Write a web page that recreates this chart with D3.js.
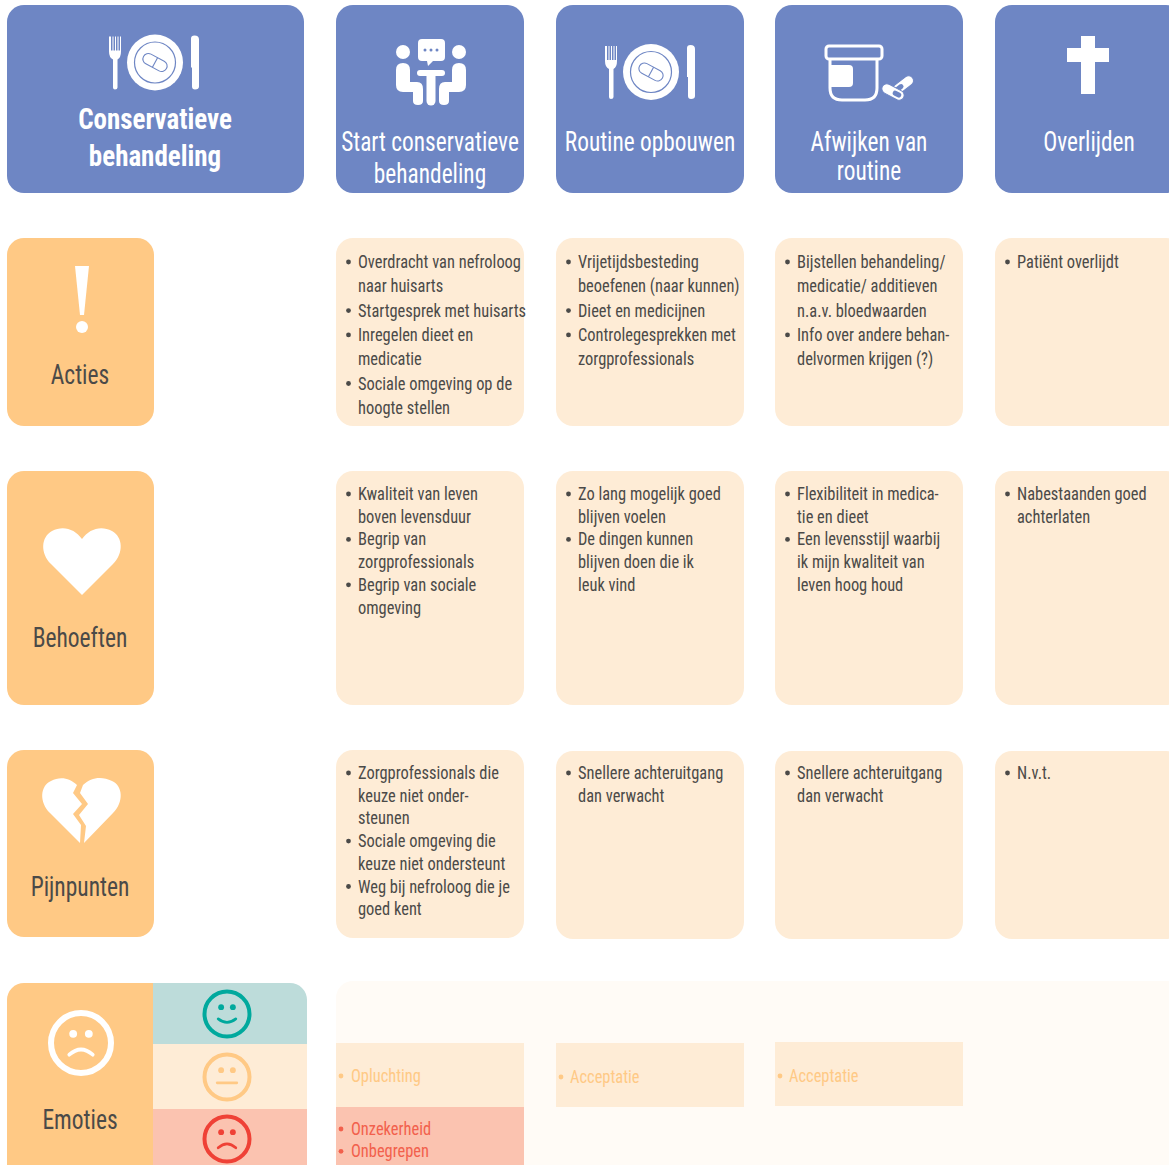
<!DOCTYPE html>
<html lang="nl">
<head>
<meta charset="UTF-8">
<title>Conservatieve behandeling</title>
<script src="https://d3js.org/d3.v7.min.js"></script>
<style>
  html, body { margin: 0; padding: 0; background: #fff; overflow: hidden; }
  text { font-family: "Liberation Sans Narrow", "Roboto Condensed", "Noto Sans", sans-serif; }
</style>
</head>
<body>
<script>
// chart content
const title = ["Conservatieve", "behandeling"];
const phases = [["Start conservatieve", "behandeling"], ["Routine opbouwen"], ["Afwijken van", "routine"], ["Overlijden"]];
const rowLabels = ["Acties", "Behoeften", "Pijnpunten", "Emoties"];

const acties = [
  [["Overdracht van nefroloog", "naar huisarts"], ["Startgesprek met huisarts"], ["Inregelen dieet en", "medicatie"], ["Sociale omgeving op de", "hoogte stellen"]],
  [["Vrijetijdsbesteding", "beoefenen (naar kunnen)"], ["Dieet en medicijnen"], ["Controlegesprekken met", "zorgprofessionals"]],
  [["Bijstellen behandeling/", "medicatie/ additieven", "n.a.v. bloedwaarden"], ["Info over andere behan-", "delvormen krijgen (?)"]],
  [["Patiënt overlijdt"]]
];
const behoeften = [
  [["Kwaliteit van leven", "boven levensduur"], ["Begrip van", "zorgprofessionals"], ["Begrip van sociale", "omgeving"]],
  [["Zo lang mogelijk goed", "blijven voelen"], ["De dingen kunnen", "blijven doen die ik", "leuk vind"]],
  [["Flexibiliteit in medica-", "tie en dieet"], ["Een levensstijl waarbij", "ik mijn kwaliteit van", "leven hoog houd"]],
  [["Nabestaanden goed", "achterlaten"]]
];
const pijnpunten = [
  [["Zorgprofessionals die", "keuze niet onder-", "steunen"], ["Sociale omgeving die", "keuze niet ondersteunt"], ["Weg bij nefroloog die je", "goed kent"]],
  [["Snellere achteruitgang", "dan verwacht"]],
  [["Snellere achteruitgang", "dan verwacht"]],
  [["N.v.t."]]
];
const neutraal = [["Opluchting"], ["Acceptatie"], ["Acceptatie"]];
const negatief = [["Onzekerheid", "Onbegrepen"]];

// layout
const colX = [336, 556, 775, 995];
const colW = 188;
const blue = "#6e86c4", orange = "#ffc985", cream = "#feecd6", teal = "#bddcda", salmon = "#fbc3b0", ink = "#4b4a48";

const svg = d3.select("body").append("svg").attr("width", 1169).attr("height", 1165).style("display", "block");

function card(x, y, w, h, fill, r = 17) {
  return svg.append("rect").attr("x", x).attr("y", y).attr("width", w).attr("height", h).attr("rx", r).attr("fill", fill);
}
// the installed narrow font runs wider than the original, so squeeze it horizontally
function label(x, y, str, size, fill, anchor = "start", weight = 400, sx = 0.865) {
  return svg.append("text")
    .attr("transform", `translate(${x},${y}) scale(${sx},1)`)
    .attr("text-anchor", anchor).attr("font-size", size).attr("font-weight", weight)
    .attr("fill", fill).text(str);
}
function bullets(items, cx, top, step, size = 19, fill = ink, bx = 12.5, tx = 22) {
  let y = top;
  items.forEach(lines => {
    svg.append("circle").attr("cx", cx + bx).attr("cy", y - 6).attr("r", 2.4).attr("fill", fill);
    lines.forEach(l => { label(cx + tx, y, l, size, fill); y += step; });
  });
}

// header
card(7, 5, 297, 188, blue);
title.forEach((t, i) => label(155, 129 + i * 37, t, 30, "#fff", "middle", 700, 0.9));
colX.forEach((x, i) => {
  card(x, 5, colW, 188, blue);
  const ys = phases[i].length === 2 ? (i === 0 ? [151, 183] : [151, 180]) : [151];
  phases[i].forEach((t, j) => label(x + colW / 2, ys[j], t, 27, "#fff", "middle", 400, 0.865));
});

// rows
card(7, 238, 147, 188, orange);
card(7, 471, 147, 234, orange);
card(7, 750, 147, 187, orange);
label(80, 384, rowLabels[0], 27, ink, "middle", 400, 0.87);
label(80, 647, rowLabels[1], 27, ink, "middle", 400, 0.87);
label(80, 896, rowLabels[2], 27, ink, "middle", 400, 0.87);

colX.forEach((x, i) => {
  card(x, 238, colW, 188, cream);
  bullets(acties[i], x, 268, 24.3);
  card(x, 471, colW, 234, cream);
  bullets(behoeften[i], x, 500, 22.7);
  const py = i < 1 ? 750 : 751;
  card(x, py, colW, 188, cream);
  bullets(pijnpunten[i], x, 779, 22.7);
});

// emoties
svg.append("defs").append("clipPath").attr("id", "emo").append("rect")
  .attr("x", 7).attr("y", 983).attr("width", 300).attr("height", 200).attr("rx", 17);
const emo = svg.append("g").attr("clip-path", "url(#emo)");
[[7, 983, 147, 200, orange], [153, 983, 154, 61, teal], [153, 1044, 154, 65, cream], [153, 1109, 154, 74, salmon]]
  .forEach(d => emo.append("rect").attr("x", d[0]).attr("y", d[1]).attr("width", d[2]).attr("height", d[3]).attr("fill", d[4]));
label(80, 1129, rowLabels[3], 27, ink, "middle", 400, 0.87);

card(336, 981, 860, 200, "#fffbf6");
neutraal.forEach((n, i) => {
  const y = i === 2 ? 1042 : 1043;
  svg.append("rect").attr("x", colX[i]).attr("y", y).attr("width", colW).attr("height", 64).attr("fill", cream);
  bullets([n], colX[i], y + (i === 0 ? 39 : 40), 22, 19, orange, 5, i === 0 ? 15 : 14);
});
svg.append("rect").attr("x", colX[0]).attr("y", 1107).attr("width", colW).attr("height", 60).attr("fill", salmon);
bullets([[negatief[0][0]], [negatief[0][1]]], colX[0], 1135, 22.3, 19, "#f2604c", 5, 15);

// icons
function plate(cx, cy, k) {
  const g = svg.append("g").attr("transform", `translate(${cx},${cy}) scale(${k})`);
  g.append("circle").attr("r", 28).attr("fill", "#fff");
  g.append("circle").attr("r", 20.5).attr("fill", "none").attr("stroke", blue).attr("stroke-width", 1.2);
  const pill = g.append("g").attr("transform", "rotate(28)");
  pill.append("rect").attr("x", -13).attr("y", -5.5).attr("width", 26).attr("height", 11).attr("rx", 5.5)
    .attr("fill", "none").attr("stroke", blue).attr("stroke-width", 1.1);
  pill.append("line").attr("x1", 0).attr("x2", 0).attr("y1", -5.5).attr("y2", 5.5).attr("stroke", blue).attr("stroke-width", 1.1);
  // fork
  g.append("path").attr("fill", "#fff").attr("d",
    "M-46,-26V-11Q-46,-5 -42,-3V25Q-42,27 -40,27Q-37.500,27 -37.500,25V-3Q-34,-5 -34,-11V-26H-35V-12H-36.500V-26H-37.500V-12H-39V-26H-40V-12H-41.500V-26H-42.500V-12H-44V-26H-45V-12H-45V-26Z");
  // knife
  g.append("path").attr("fill", "#fff").attr("d",
    "M36,-24Q36,-27 39.500,-27Q44,-27 44,-23V24Q44,27 40,27Q37,27 37,24V5H36Z");
}
plate(155, 62.5, 1);
plate(651, 72, 1);

const w = svg.append("g");
// people at the table
[[403, 52], [459, 52]].forEach(d => w.append("circle").attr("cx", d[0]).attr("cy", d[1]).attr("r", 7).attr("fill", "#fff"));
w.append("path").attr("fill", "#fff").attr("d", "M422,39H441Q445,39 445,43V57Q445,61 441,61H433L428,66L427,61H422Q418,61 418,57V43Q418,39 422,39Z");
[425, 431, 437].forEach(x => w.append("circle").attr("cx", x).attr("cy", 50).attr("r", 1.5).attr("fill", blue));
w.append("path").attr("fill", "none").attr("stroke", "#fff").attr("stroke-width", 6).attr("stroke-linecap", "round").attr("d", "M420,73H442");
w.append("path").attr("fill", "none").attr("stroke", "#fff").attr("stroke-width", 9).attr("stroke-linecap", "round").attr("d", "M431,75V101");
w.append("path").attr("fill", "#fff").attr("d", "M396,70Q396,63 403,63Q410,63 410,70V82H417Q423,82 423,89V101Q423,105 418,105Q413,105 413,101V92H403Q396,92 396,85Z");
w.append("path").attr("fill", "#fff").attr("d", "M466,70Q466,63 459,63Q452,63 452,70V82H445Q439,82 439,89V101Q439,105 444,105Q449,105 449,101V92H459Q466,92 466,85Z");

// jar with pills
const jar = svg.append("g").attr("fill", "none").attr("stroke", "#fff").attr("stroke-width", 3);
jar.append("rect").attr("x", 826).attr("y", 46).attr("width", 56).attr("height", 13).attr("rx", 3);
jar.append("path").attr("d", "M830,59V88Q830,100 842,100H865Q877,100 877,88V59");
svg.append("path").attr("fill", "#fff").attr("d", "M830,65H849Q853,65 853,69V83Q853,87 849,87H830Z");
[[903, 85, -38, 1], [893, 92, 28, 0]].forEach(d => {
  const p = svg.append("g").attr("transform", `translate(${d[0]},${d[1]}) rotate(${d[2]})`);
  p.append("rect").attr("x", -12).attr("y", -5).attr("width", 24).attr("height", 10).attr("rx", 5).attr("fill", "#fff").attr("stroke", blue);
  p.append("rect").attr("x", d[3] ? -9 : 0).attr("y", -2.5).attr("width", 9).attr("height", 5).attr("rx", 2.5).attr("fill", blue);
});

// cross
svg.append("path").attr("fill", "#fff").attr("d", "M1081,36H1095V48H1109V62H1095V94H1081V62H1067V48H1081Z");

// exclamation mark
svg.append("path").attr("fill", "#fff").attr("d", "M75,266H89L84,315H80Z");
svg.append("circle").attr("cx", 82).attr("cy", 327).attr("r", 6).attr("fill", "#fff");

// heart
svg.append("path").attr("fill", "#fff").attr("d", "M82,595L51,564C40,553 41,537 52,531C63,525 75,529 82,539C89,529 101,525 112,531C123,537 124,553 113,564Z");

// broken heart
svg.append("path").attr("fill", "#fff").attr("d", "M80,843L50,813C39,802 40,786 51,781C60,776 70,778 77,785L73,793L82,804L73,814L81,825Z");
svg.append("path").attr("fill", "#fff").attr("d", "M84,843L86,826L79,815L88,804L80,793L83,785C91,777 102,776 112,781C123,786 124,802 113,813Z");

// faces
function face(cx, cy, r, sw, color, mood) {
  const g = svg.append("g").attr("transform", `translate(${cx},${cy})`);
  const k = r / 23;
  g.append("circle").attr("r", r).attr("fill", "none").attr("stroke", color).attr("stroke-width", sw);
  [-6, 6].forEach(x => g.append("circle").attr("cx", x * k).attr("cy", -7 * k).attr("r", 3 * k).attr("fill", color));
  const d = mood === 1 ? "M-9,5Q0,12 9,5" : mood === 0 ? "M-10,6H10" : "M-9,9Q0,1 9,9";
  g.append("path").attr("transform", `scale(${k})`).attr("d", d).attr("fill", "none").attr("stroke", color)
    .attr("stroke-width", 2.8).attr("stroke-linecap", "round");
}
face(81, 1043, 30, 6, "#fff", -1);
face(227, 1014, 22.5, 4, "#00a99d", 1);
face(227, 1077, 22.5, 4, orange, 0);
face(227, 1139, 22.5, 4, "#ef4136", -1);
</script>
</body>
</html>
